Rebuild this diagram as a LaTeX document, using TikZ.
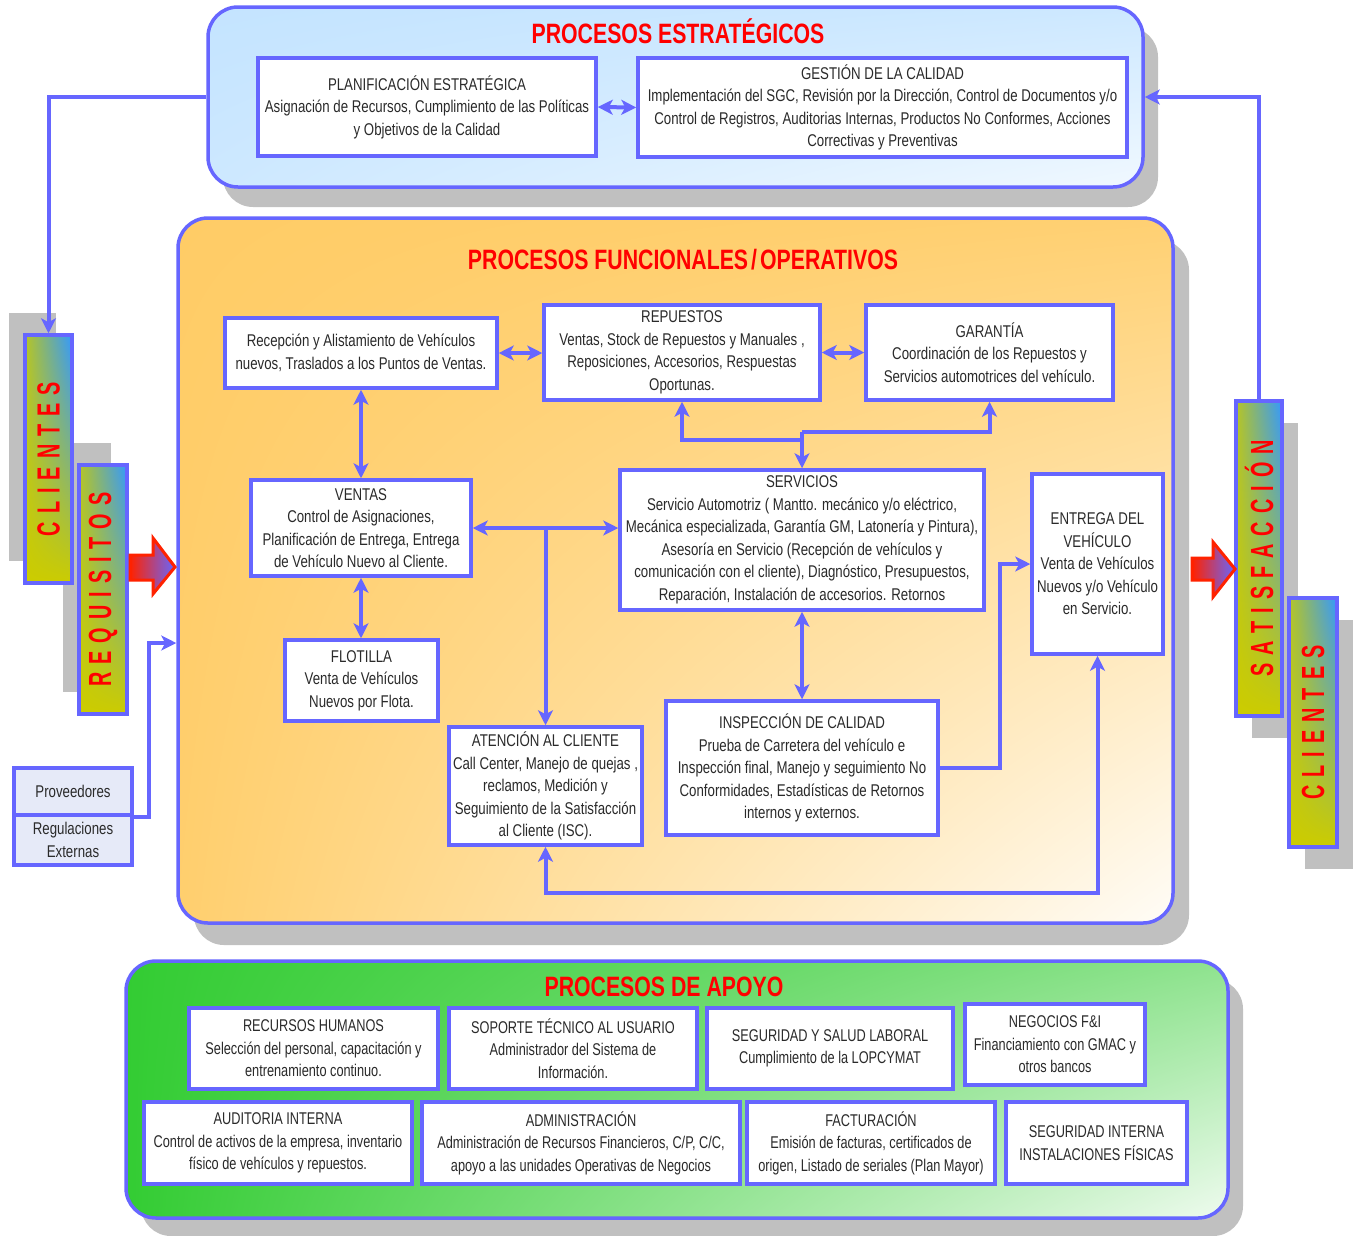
\documentclass[tikz,border=0pt]{standalone}
\usepackage{fontspec}
\usepackage{graphicx}
\setmainfont{Liberation Sans}
\newfontfamily\nar[FakeStretch=0.78]{Liberation Sans}
\newfontfamily\narb[FakeStretch=0.75]{Liberation Sans}
\newfontfamily\titf[FakeStretch=0.76]{Liberation Sans}
\newfontfamily\labf[FakeStretch=0.62]{Liberation Sans}
\newcommand\lsp{\hspace{8pt}}
\usetikzlibrary{arrows.meta,shadows,shadings}
\definecolor{bl}{HTML}{6666FF}
\definecolor{shg}{HTML}{C0C0C0}
\definecolor{txt}{HTML}{2A2A2A}
\definecolor{lbY}{HTML}{CCCC00}
\definecolor{lbB}{HTML}{3399FF}
\definecolor{orA}{HTML}{FFCC66}
\definecolor{skyA}{HTML}{C4E4FF}
\definecolor{grA}{HTML}{33CC33}
\definecolor{provf}{HTML}{E6EAF8}
\definecolor{redA}{HTML}{FF2200}
\begin{document}
\begin{tikzpicture}[x=1pt,y=-1pt,
  >={Stealth[length=15pt,width=15pt,inset=4pt]},
  box/.style={draw=bl, line width=3.5pt, fill=white, align=center, inner sep=0pt, text=txt,
    font=\nar\fontsize{17}{22.5}\selectfont},
  bbox/.style={box, font=\narb\fontsize{17}{22.5}\selectfont},
  panel/.style={draw=bl, line width=3.5pt, rounded corners=30pt, inner sep=0pt},
  ttl/.style={text=red, font=\titf\bfseries\fontsize{28}{30}\selectfont, inner sep=0pt},
  vlab/.style={draw=bl, line width=3.5pt, inner sep=0pt, text=red,
    font=\labf\bfseries\fontsize{32}{34}\selectfont,
    lower left=lbY, lower right=lbY, upper left=lbY!85!lbB, upper right=lbB},
  conn/.style={draw=bl, line width=4pt},
  redarr/.style={draw=redA, line width=3pt, line join=miter, left color=redA, right color=bl}
]
\useasboundingbox (0,0) rectangle (1362,1235);

% ---------- panels ----------
\node[panel, minimum width=935pt, minimum height=180pt,
  upper left=skyA, upper right=skyA!85!white, lower left=skyA!85!white, lower right=skyA!25!white,
  drop shadow={shadow xshift=15pt, shadow yshift=-20pt, fill=shg, opacity=1}] (pest) at (675.5,97) {};
\node[panel, minimum width=995pt, minimum height=705pt,
  upper left=orA, upper right=orA!92!white, lower left=orA!95!white, lower right=orA!5!white,
  drop shadow={shadow xshift=16pt, shadow yshift=-22pt, fill=shg, opacity=1}] (pfun) at (675.5,570.5) {};
\node[panel, minimum width=1102pt, minimum height=257pt,
  upper left=grA, upper right=grA!55!white, lower left=grA, lower right=grA!8!white,
  drop shadow={shadow xshift=15pt, shadow yshift=-18pt, fill=shg, opacity=1}] (papo) at (677,1089.5) {};

\node[ttl] (t1) at (678,31) {PROCESOS ESTRATÉGICOS};
\node[ttl] (t2) at (683,260) {PROCESOS FUNCIONALES\kern3pt/\kern3pt OPERATIVOS};
\node[ttl] (t3) at (664,987) {PROCESOS DE APOYO};

% ---------- strategic ----------
\node[box, minimum width=338pt, minimum height=98pt] (plan) at (427,107)
  {PLANIFICACIÓN ESTRATÉGICA\\Asignación de Recursos, Cumplimiento de las Políticas\\y Objetivos de la Calidad};
\node[box, minimum width=489pt, minimum height=99pt] (gest) at (882.5,107.5)
  {GESTIÓN DE LA CALIDAD\\Implementación del SGC, Revisión por la Dirección, Control de Documentos y/o\\Control de Registros, Auditorias Internas, Productos No Conformes, Acciones\\Correctivas y Preventivas};

% ---------- operational ----------
\node[box, minimum width=272pt, minimum height=70pt] (recep) at (361,353)
  {Recepción y Alistamiento de Vehículos\\nuevos, Traslados a los Puntos de Ventas.};
\node[box, minimum width=276pt, minimum height=95pt] (repu) at (682,352.5)
  {REPUESTOS\\Ventas, Stock de Repuestos y Manuales ,\\Reposiciones, Accesorios, Respuestas\\Oportunas.};
\node[box, minimum width=247pt, minimum height=95pt] (gara) at (989.5,352.5)
  {GARANTÍA\\Coordinación de los Repuestos y\\Servicios automotrices del vehículo.};
\node[box, minimum width=220pt, minimum height=96pt] (ventas) at (361,528)
  {VENTAS\\Control de Asignaciones,\\Planificación de Entrega, Entrega\\de Vehículo Nuevo al Cliente.};
\node[box, minimum width=364pt, minimum height=140pt] (serv) at (802,540)
  {SERVICIOS\\Servicio Automotriz ( Mantto. mecánico y/o eléctrico,\\Mecánica especializada, Garantía GM, Latonería y Pintura),\\Asesoría en Servicio (Recepción de vehículos y\\comunicación con el cliente), Diagnóstico, Presupuestos,\\Reparación, Instalación de accesorios. Retornos};
\node[box, minimum width=131pt, minimum height=180pt] (entrega) at (1097.5,564)
  {ENTREGA DEL\\VEHÍCULO\\Venta de Vehículos\\Nuevos y/o Vehículo\\en Servicio.};
\node[box, minimum width=153pt, minimum height=81pt] (flot) at (361.5,680.5)
  {FLOTILLA\\Venta de Vehículos\\Nuevos por Flota.};
\node[box, minimum width=193pt, minimum height=118pt] (aten) at (545.5,786)
  {ATENCIÓN AL CLIENTE\\Call Center, Manejo de quejas ,\\reclamos, Medición y\\Seguimiento de la Satisfacción\\al Cliente (ISC).};
\node[box, minimum width=272pt, minimum height=134pt] (insp) at (802,768)
  {INSPECCIÓN DE CALIDAD\\Prueba de Carretera del vehículo e\\Inspección final, Manejo y seguimiento No\\Conformidades, Estadísticas de Retornos\\internos y externos.};

% ---------- support ----------
\node[bbox, minimum width=249pt, minimum height=81pt] (rrhh) at (313.5,1048.5)
  {RECURSOS HUMANOS\\Selección del personal, capacitación y\\entrenamiento continuo.};
\node[bbox, minimum width=248pt, minimum height=81pt] (sopo) at (573,1048.5)
  {SOPORTE TÉCNICO AL USUARIO\\Administrador del Sistema de\\Información.};
\node[bbox, minimum width=246pt, minimum height=81pt] (segu) at (830,1048.5)
  {SEGURIDAD Y SALUD LABORAL\\Cumplimiento de la LOPCYMAT};
\node[bbox, minimum width=180pt, minimum height=81pt] (nego) at (1055,1044.5)
  {NEGOCIOS F\&I\\Financiamiento con GMAC y\\otros bancos};
\node[bbox, minimum width=268pt, minimum height=82pt] (audi) at (278,1143)
  {AUDITORIA INTERNA\\Control de activos de la empresa, inventario\\físico de vehículos y repuestos.};
\node[bbox, minimum width=318pt, minimum height=82pt] (admi) at (581,1143)
  {ADMINISTRACIÓN\\Administración de Recursos Financieros, C/P, C/C,\\apoyo a las unidades Operativas de Negocios};
\node[bbox, minimum width=248pt, minimum height=82pt] (fact) at (871,1143)
  {FACTURACIÓN\\Emisión de facturas, certificados de\\origen, Listado de seriales (Plan Mayor)};
\node[bbox, minimum width=181pt, minimum height=82pt] (segi) at (1096.5,1143)
  {SEGURIDAD INTERNA\\INSTALACIONES FÍSICAS};

% ---------- side labels ----------
\node[vlab, minimum width=48pt, minimum height=249pt,
  drop shadow={shadow xshift=-16pt, shadow yshift=22pt, fill=shg, opacity=1}] (requ) at (103,589.5)
  {\rotatebox{90}{R\lsp E\lsp Q\lsp U\lsp I\lsp S\lsp I\lsp T\lsp O\lsp S}};
\node[vlab, minimum width=47pt, minimum height=248pt,
  drop shadow={shadow xshift=-16pt, shadow yshift=22pt, fill=shg, opacity=1}] (cli1) at (48.5,459)
  {\rotatebox{90}{C\lsp L\lsp I\lsp E\lsp N\lsp T\lsp E\lsp S}};
\node[vlab, minimum width=46pt, minimum height=315pt,
  drop shadow={shadow xshift=16pt, shadow yshift=-22pt, fill=shg, opacity=1}] (sati) at (1259,558.5)
  {\rotatebox{90}{S\lsp A\lsp T\lsp I\lsp S\lsp F\lsp A\lsp C\lsp C\lsp I\lsp Ó\lsp N}};
\node[vlab, minimum width=48pt, minimum height=249pt,
  drop shadow={shadow xshift=16pt, shadow yshift=-22pt, fill=shg, opacity=1}] (cli2) at (1313,722.5)
  {\rotatebox{90}{C\lsp L\lsp I\lsp E\lsp N\lsp T\lsp E\lsp S}};

\node[box, fill=provf, minimum width=118pt, minimum height=47pt] (prov) at (73,791.5) {Proveedores};
\node[box, fill=provf, minimum width=118pt, minimum height=50pt] (regu) at (73,840) {Regulaciones\\Externas};

% ---------- red block arrows ----------
\draw[redarr] (130,555) -- (153,555) -- (153,538) -- (175,567) -- (153,594) -- (153,580) -- (130,580) -- cycle;
\draw[redarr] (1192,558) -- (1213,558) -- (1213,542) -- (1235,569) -- (1213,597) -- (1213,580) -- (1192,580) -- cycle;

% ---------- connectors ----------
\coordinate (jv) at (545.5,528);
\coordinate (jr) at (802,440);
\coordinate (jg) at (802,432);
\coordinate (jb) at (0,893);
\coordinate (jp) at (149,643);

\draw[conn,<->] (plan.east) -- (gest.west);
\draw[conn,->] (pest.west) -| (cli1.north);
\draw[conn,->] (sati.north) |- (pest.east);

\draw[conn,<->] (recep.east) -- (recep.east -| repu.west);
\draw[conn,<->] (repu.east) -- (gara.west);
\draw[conn,<->] (recep.south) -- (ventas.north);
\draw[conn,<->] (ventas.south) -- (ventas.south |- flot.north);
\draw[conn,<->] (ventas.east) -- (ventas.east -| serv.west);
\draw[conn,->] (jv) -- (aten.north);
\draw[conn,->] (jr) -| (repu.south);
\draw[conn,->] (jg) -| (gara.south);
\draw[conn,->] (jg) -- (serv.north);
\draw[conn,<->] (serv.south) -- (insp.north);
\draw[conn,->] (insp.east) -- ++(60pt,0pt) |- (entrega.west);
\draw[conn,<->] (aten.south) -- (aten.south |- jb) -| (entrega.south);
\draw[conn,->] (prov.south east) -| (jp) -- (jp -| pfun.west);
\end{tikzpicture}
\end{document}
